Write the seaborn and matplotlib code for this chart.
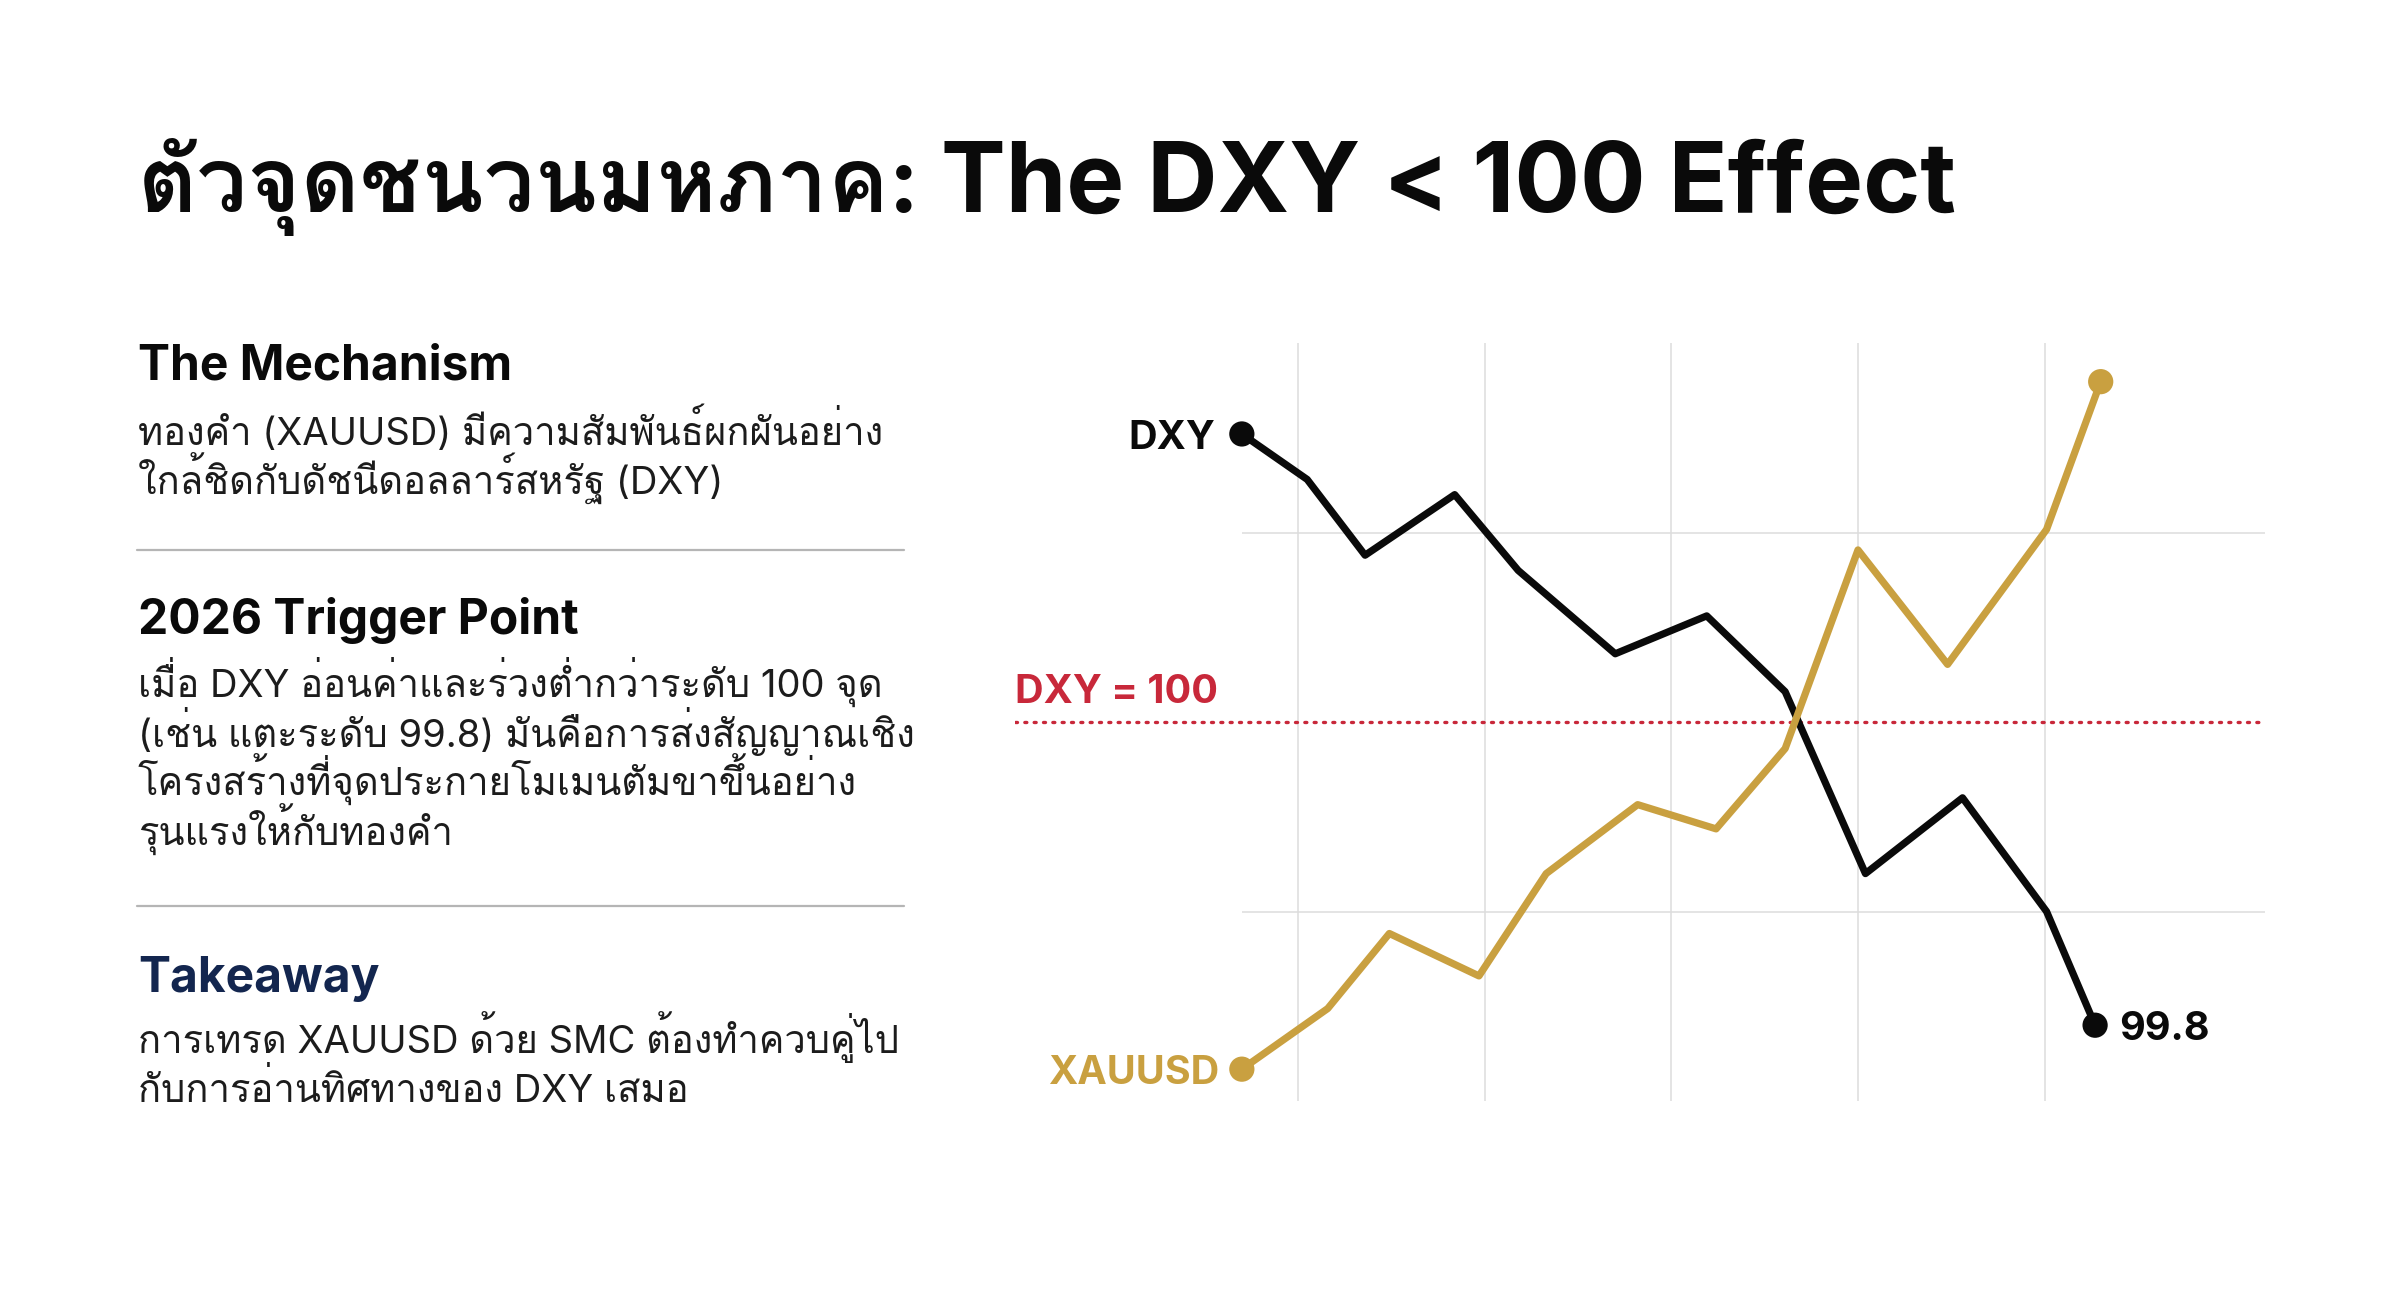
import numpy as np
import pandas as pd
import matplotlib
matplotlib.use('Agg')
import matplotlib.pyplot as plt
import seaborn as sns

# ---- data ----
dxy_x = [0.70, 1.05, 1.36, 1.84, 2.18, 2.70, 3.19, 3.61, 4.04, 4.56, 5.01, 5.27]
dxy_vals = [100.19, 100.16, 100.11, 100.15, 100.10, 100.045, 100.07, 100.02, 99.90, 99.95, 99.875, 99.80]
gold_x = [0.70, 1.16, 1.49, 1.97, 2.33, 2.82, 3.24, 3.61, 4.00, 4.48, 5.01, 5.30]
gold_idx = [4.2, 12.2, 22.1, 16.5, 30.0, 39.1, 35.9, 46.5, 72.7, 57.6, 75.4, 94.9]
grid_x = [1, 2, 3, 4, 5]
grid_y = [100.125, 99.875]
threshold = 100

title_th = 'ตัวจุดชนวนมหภาค:'
title_en = 'The DXY < 100 Effect'
headings = ['The Mechanism', '2026 Trigger Point', 'Takeaway']
bodies = [
    ['ทองคำ (XAUUSD) มีความสัมพันธ์ผกผันอย่าง',
     'ใกล้ชิดกับดัชนีดอลลาร์สหรัฐ (DXY)'],
    ['เมื่อ DXY อ่อนค่าและร่วงต่ำกว่าระดับ 100 จุด',
     '(เช่น แตะระดับ 99.8) มันคือการส่งสัญญาณเชิง',
     'โครงสร้างที่จุดประกายโมเมนตัมขาขึ้นอย่าง',
     'รุนแรงให้กับทองคำ'],
    ['การเทรด XAUUSD ด้วย SMC ต้องทำควบคู่ไป',
     'กับการอ่านทิศทางของ DXY เสมอ'],
]

sns.set_style('white')
# Inter for latin, Loma (stacks tone marks properly) for Thai
plt.rcParams['font.family'] = ['Inter', 'Loma', 'DejaVu Sans']

W, H = 2400, 1309
fig = plt.figure(figsize=(24, 13.09), dpi=100)
fig.patch.set_facecolor('white')

def ftext(x, y, s, **kw):
    fig.text(x / W, 1 - y / H, s, va='baseline', ha='left', **kw)

ftext(138, 212, title_th, fontsize=65.5, fontweight='bold', color='#0a0a0a')
ftext(941, 212, title_en, fontsize=70, fontweight='bold', color='#0a0a0a')

head_y = [380, 634, 992]
body_y = [[445, 495], [697, 747, 796, 846], [1053, 1102]]
head_col = ['#0a0a0a', '#0a0a0a', '#13264F']
for i in range(3):
    ftext(138, head_y[i], headings[i], fontsize=34.5, fontweight='bold', color=head_col[i])
    for line, yy in zip(bodies[i], body_y[i]):
        ftext(138, yy, line, fontsize=27.5, color='#1c1c1c')
for yy in [550, 906]:
    fig.add_artist(plt.Line2D([137 / W, 904 / W], [1 - yy / H] * 2, color='#b5b5b5', lw=1.6))

# ---- chart ----
ax = fig.add_axes([1015 / W, 1 - 1101 / H, (2265 - 1015) / W, (1101 - 343) / H])
ax.set_xlim(-0.515, 6.18)
ax.set_ylim(99.75, 100.25)
for gx in grid_x:
    ax.axvline(gx, color='#dddddd', lw=1.1, zorder=0)
ax.hlines(grid_y, dxy_x[0], 6.18, color='#dddddd', lw=1.1, zorder=0)
ax.axhline(threshold, color='#C8283A', lw=2.4, linestyle=(0, (0.6, 2.2)),
           dash_capstyle='round', zorder=1)

gold = '#C9A040'
sns.lineplot(x=dxy_x, y=dxy_vals, ax=ax, color='#0a0a0a', lw=5.2, zorder=3)
sns.scatterplot(x=[dxy_x[0], dxy_x[-1]], y=[dxy_vals[0], dxy_vals[-1]], ax=ax,
                color='#0a0a0a', s=330, edgecolor='none', zorder=4)

ax2 = ax.twinx()
ax2.set_ylim(0, 100)
sns.lineplot(x=gold_x, y=gold_idx, ax=ax2, color=gold, lw=5.2, zorder=3)
sns.scatterplot(x=[gold_x[0], gold_x[-1]], y=[gold_idx[0], gold_idx[-1]], ax=ax2,
                color=gold, s=330, edgecolor='none', zorder=4)

lab = dict(fontsize=28.5, fontweight='bold', textcoords='offset points', va='baseline')
ax.annotate('DXY', (dxy_x[0], dxy_vals[0]), xytext=(-19, -10.5), ha='right', color='#0a0a0a', **lab)
ax.annotate('%.1f' % dxy_vals[-1], (dxy_x[-1], dxy_vals[-1]), xytext=(17, -10.5), ha='left',
            color='#0a0a0a', **lab)
ax2.annotate('XAUUSD', (gold_x[0], gold_idx[0]), xytext=(-16, -10.5), ha='right', color=gold, **lab)
ax.annotate('DXY = %d' % threshold, (0, threshold), xycoords=('axes fraction', 'data'),
            xytext=(0, 13.7), ha='left', color='#C8283A', **lab)

for a in (ax, ax2):
    a.set_xticks([])
    a.set_yticks([])
    a.set_xlabel('')
    a.set_ylabel('')
    for sp in a.spines.values():
        sp.set_visible(False)
    a.patch.set_alpha(0)

fig.savefig('out.png', dpi=100, facecolor='white')
